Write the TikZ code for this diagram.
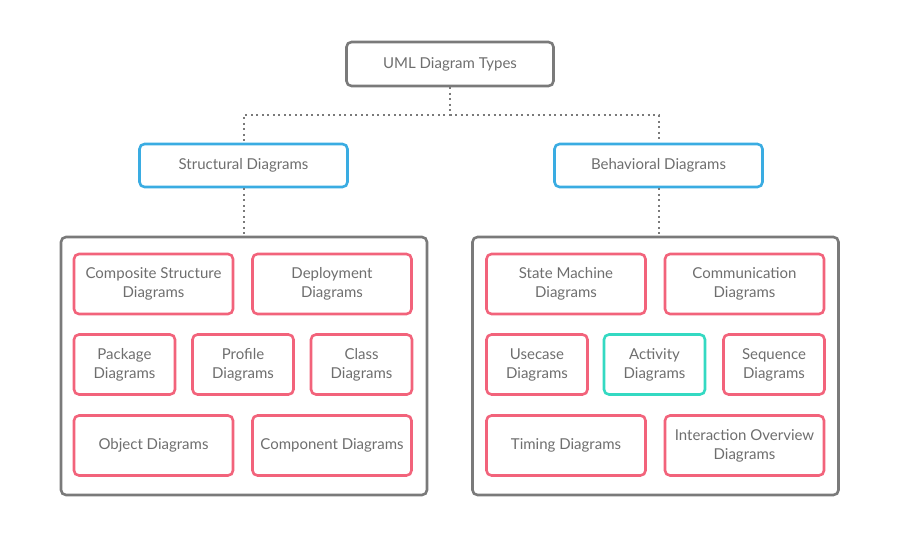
\documentclass[tikz,border=0pt]{standalone}
\usepackage{fontspec}
\setmainfont{Lato}
\definecolor{umlgray}{HTML}{7A7A7A}
\definecolor{umltext}{HTML}{6E6E6E}
\definecolor{umlblue}{HTML}{3AACE2}
\definecolor{umlpink}{HTML}{F2637B}
\definecolor{umlteal}{HTML}{34D9C2}
\tikzset{
  base/.style={draw, rounded corners=5pt, line width=2.6pt, inner sep=0pt, align=center, text=umltext, font=\fontsize{15}{19}\selectfont},
  rootbox/.style={base, draw=umlgray, minimum width=207pt, minimum height=44pt},
  groupbox/.style={base, draw=umlblue, minimum width=208pt, minimum height=43pt},
  frame/.style={draw=umlgray, rounded corners=5pt, line width=2.6pt, inner sep=0pt, minimum width=366pt, minimum height=258pt},
  widebox/.style={base, draw=umlpink, minimum width=159pt, minimum height=60pt},
  smallbox/.style={base, draw=umlpink, minimum width=101pt, minimum height=60pt},
  link/.style={draw=umlgray, line width=2pt, dash pattern=on 2pt off 3.5pt}
}
\begin{document}
\begin{tikzpicture}[x=1pt, y=-1pt]
\useasboundingbox (0,0) rectangle (900,540);
% root and the two groups
\node[rootbox] (root) at (450,64) {UML Diagram Types};
\node[groupbox] (struct) at (243.5,165.5) {Structural Diagrams};
\node[groupbox] (behav) at (658.5,165.5) {Behavioral Diagrams};
% frames
\node[frame] (left) at (244,366) {};
\node[frame] (right) at (655.5,366) {};
% structural diagrams
\node[widebox] (composite) at (153.5,284) {Composite Structure\\Diagrams};
\node[widebox] (deploy) at (332,284) {Deployment\\Diagrams};
\node[smallbox] (package) at (124.5,364.5) {Package\\Diagrams};
\node[smallbox] (profile) at (243,364.5) {Profile\\Diagrams};
\node[smallbox] (class) at (361.5,364.5) {Class\\Diagrams};
\node[widebox] (object) at (153.5,445.5) {Object Diagrams};
\node[widebox] (component) at (332,445.5) {Component Diagrams};
% behavioral diagrams
\node[widebox] (state) at (566,284) {State Machine\\Diagrams};
\node[widebox] (commu) at (744.5,284) {Communication\\Diagrams};
\node[smallbox] (usecase) at (537,364.5) {Usecase\\Diagrams};
\node[smallbox, draw=umlteal] (activity) at (654.5,364.5) {Activity\\Diagrams};
\node[smallbox] (sequence) at (774,364.5) {Sequence\\Diagrams};
\node[widebox] (timing) at (566,445.5) {Timing Diagrams};
\node[widebox] (interact) at (744.5,445.5) {Interaction Overview\\Diagrams};
% dotted links
\draw[link] (root.south) -- ++(0,28) -| (struct.north);
\draw[link] (root.south) -- ++(0,28) -| (behav.north);
\draw[link] (struct.south) -- (struct.south |- left.north);
\draw[link] (behav.south) -- (behav.south |- right.north);
\end{tikzpicture}
\end{document}
